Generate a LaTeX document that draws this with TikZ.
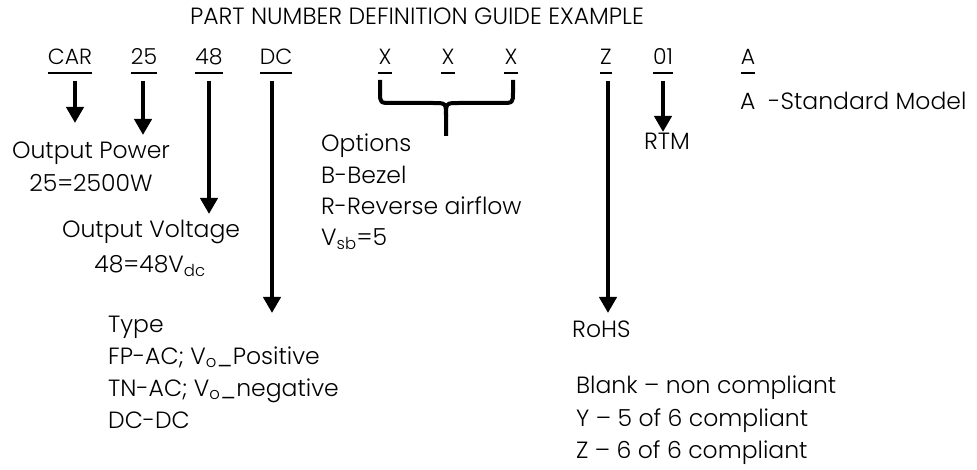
\documentclass[tikz,border=0pt]{standalone}
\usepackage{fontspec}
\setmainfont{Poppins Light}
\usetikzlibrary{arrows.meta}
\tikzset{
  txt/.style={inner sep=0pt, anchor=base, font=\fontsize{23.5}{28}\selectfont},
  lft/.style={inner sep=0pt, anchor=base west, font=\fontsize{23.5}{28}\selectfont},
  code/.style={inner sep=0pt, anchor=base, font=\fontsize{22}{26}\selectfont},
  arr/.style={line width=4pt, -{Triangle[width=17pt,length=16pt]}},
  bar/.style={line width=4pt, line join=round},
  uline/.style={line width=1.5pt}
}
\newcommand{\ul}[1]{\draw[uline] ([yshift=-8pt]#1.base west) -- ([yshift=-8pt]#1.base east);}
\begin{document}
\begin{tikzpicture}[x=1pt,y=-1pt]
\useasboundingbox (0,0) rectangle (977,470);
\node[txt] (title) at (417,25) {PART NUMBER DEFINITION GUIDE EXAMPLE};
\node[code] (car) at (70,65) {CAR};
\node[code] (c25) at (144,65) {25};
\node[code] (c48) at (209,65) {48};
\node[code] (dc) at (276,65) {DC};
\node[code] (x1) at (385,65) {X};
\node[code] (x2) at (448,65) {X};
\node[code] (x3) at (511,65) {X};
\node[code] (z) at (606,65) {Z};
\node[code] (c01) at (663,65) {01};
\node[code] (a) at (748,65) {A};
\foreach \n in {car,c25,c48,dc,x1,x2,x3,z,c01,a} {\ul{\n}}
% labels
\node[txt] (power) at (91,159) {Output Power};
\node[txt] (powerv) at (91,192) {25=2500W};
\node[txt] (volt) at (151,238) {Output Voltage};
\node[txt] (voltv) at (150,273) {48=48V\textsubscript{dc}};
\node[lft] (opt1) at (321,152) {Options};
\node[lft] (opt2) at (321,184) {B-Bezel};
\node[lft] (opt3) at (321,215) {R-Reverse airflow};
\node[lft] (opt4) at (321,246) {V\textsubscript{sb}=5};
\node[lft] (type1) at (108,332) {Type};
\node[lft] (type2) at (108,364) {FP-AC; V\textsubscript{o}\_Positive};
\node[lft] (type3) at (108,396) {TN-AC; V\textsubscript{o}\_negative};
\node[lft] (type4) at (108,428) {DC-DC};
\node[lft] (rohs) at (572,337) {RoHS};
\node[lft] (rohs1) at (576,393) {Blank – non compliant};
\node[lft] (rohs2) at (576,426) {Y – 5 of 6 compliant};
\node[lft] (rohs3) at (576,458) {Z – 6 of 6 compliant};
\node[txt] (rtm) at (667,150) {RTM};
\node[lft] (std) at (740,110) {A\ \ -Standard Model};
% connectors
\coordinate (carE) at (75,123);
\coordinate (c25E) at (143,135);
\coordinate (c48E) at (209,214);
\coordinate (dcE) at (272,313);
\coordinate (zE) at (608,313);
\coordinate (c01E) at (663,132);
\draw[arr] (75,81) -- (carE);
\draw[arr] (143,81) -- (c25E);
\draw[arr] (209,81) -- (c48E);
\draw[arr] (272,81) -- (dcE);
\draw[arr] (608,81) -- (zE);
\draw[arr] (663,81) -- (c01E);
% brace
\coordinate (bl) at (380,80);
\coordinate (br) at (513,80);
\coordinate (bt) at (446,136);
\draw[bar] (bl) -- (380,92) .. controls (380,103) .. (392,103) -- (433,103) .. controls (446,103) .. (446,116) -- (bt);
\draw[bar] (br) -- (513,92) .. controls (513,103) .. (501,103) -- (459,103) .. controls (446,103) .. (446,116);
\end{tikzpicture}
\end{document}
